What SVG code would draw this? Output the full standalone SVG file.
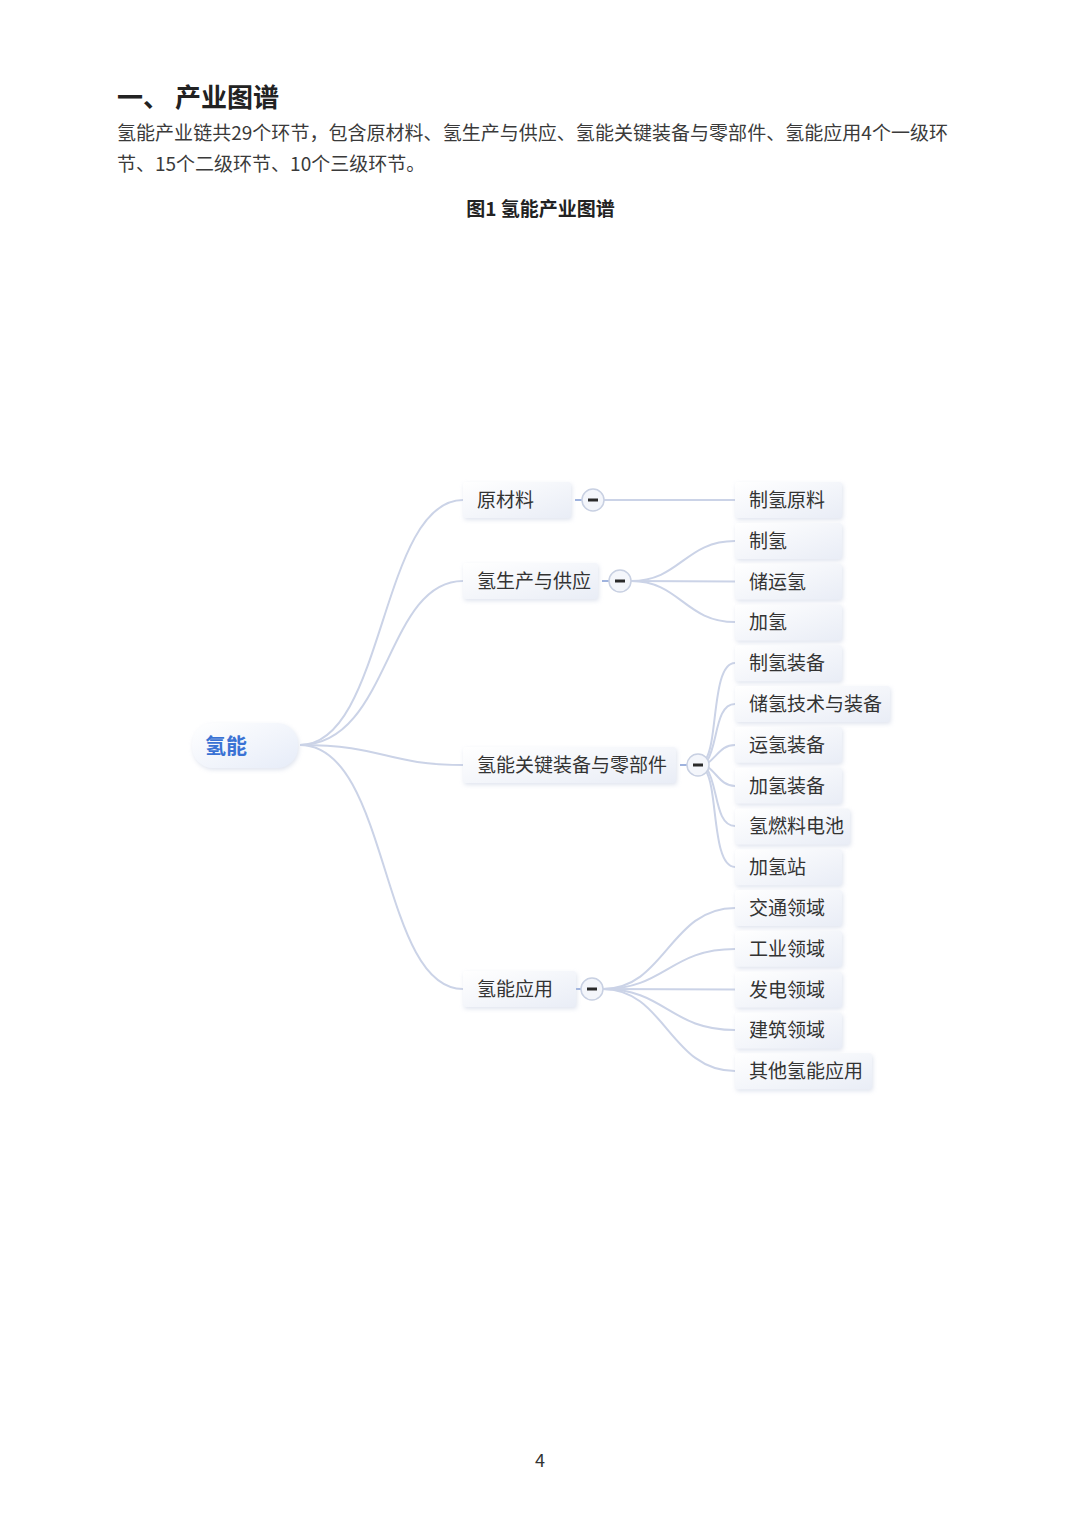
<svg xmlns="http://www.w3.org/2000/svg" width="1080" height="1526" viewBox="0 0 1080 1526">
<style>
text{font-family:"Noto Sans CJK SC","Noto Sans",sans-serif;fill:#333}
.h{font-size:26px;font-weight:bold;fill:#222}
.p{font-size:19px;fill:#3a3a3a}
.cap{font-size:19px;font-weight:bold;fill:#222}
.t{font-size:19px;fill:#333}
.root{font-size:21px;font-weight:bold;fill:#3a72d4}
.box{fill:url(#g);filter:url(#sh)}
.rbox{fill:url(#gr);filter:url(#sh)}
.c{fill:none;stroke:#cbd3e7;stroke-width:2}
.stub{stroke:#9fb3de;stroke-width:2}
.ci{fill:#f4f6fb;stroke:#c8d0e2;stroke-width:1.5}
.mi{stroke:#2a2a2a;stroke-width:3}
</style>
<defs>
<linearGradient id="g" x1="0" y1="0" x2="1" y2="1">
<stop offset="0" stop-color="#ffffff"/>
<stop offset="1" stop-color="#e9edf6"/>
</linearGradient>
<linearGradient id="gr" x1="0" y1="0" x2="1" y2="1">
<stop offset="0" stop-color="#ffffff"/>
<stop offset="1" stop-color="#e6ecf8"/>
</linearGradient>
<filter id="sh" x="-20%" y="-30%" width="140%" height="170%">
<feDropShadow dx="1" dy="2" stdDeviation="2" flood-color="#b9c3da" flood-opacity="0.45"/>
</filter>
</defs>
<rect width="1080" height="1526" fill="#ffffff"/>

<text class="h" x="117" y="107">一、 产业图谱</text>
<text class="p" x="117" y="140" textLength="831">氢能产业链共29个环节，包含原材料、氢生产与供应、氢能关键装备与零部件、氢能应用4个一级环</text>
<text class="p" x="117" y="171">节、15个二级环节、10个三级环节。</text>
<text class="cap" x="540.5" y="216" text-anchor="middle">图1 氢能产业图谱</text>

<g id="connectors">
<path class="c" d="M300,745 C385,745 380,500 463,500"/>
<path class="c" d="M300,745 C390,745 385,581 463,581"/>
<path class="c" d="M300,745 C385,745 385,765 463,765"/>
<path class="c" d="M300,745 C390,745 380,989 463,989"/>
<line class="stub" x1="575" y1="500" x2="582" y2="500"/>
<line class="stub" x1="602" y1="581" x2="609" y2="581"/>
<line class="stub" x1="680" y1="765" x2="687" y2="765"/>
<line class="stub" x1="574" y1="989" x2="581" y2="989"/>
<path class="c" d="M604,500 L735,500"/>
<path class="c" d="M631,581 C680,581 685,541 735,541"/>
<path class="c" d="M631,581 L735,581.6"/>
<path class="c" d="M631,581 C680,581 685,622 735,622"/>
<path class="c" d="M706,759 C718,740 712,663 735,663"/>
<path class="c" d="M707,761 C718,745 715,704 735,704"/>
<path class="c" d="M708,763 C718,755 722,745 735,745"/>
<path class="c" d="M708,767 C718,775 722,786 735,786"/>
<path class="c" d="M707,769 C718,785 715,826 735,826"/>
<path class="c" d="M706,771 C718,790 712,867 735,867"/>
<path class="c" d="M603,989 C665,989 670,908 735,908"/>
<path class="c" d="M603,989 C665,989 670,949 735,949"/>
<path class="c" d="M603,989 L735,989.6"/>
<path class="c" d="M603,989 C665,989 670,1030 735,1030"/>
<path class="c" d="M603,989 C665,989 670,1071 735,1071"/>
</g>

<g id="n-root"><rect class="rbox" x="192" y="723" width="106" height="45" rx="21"/><text class="root" x="205" y="753">氢能</text></g>

<g id="n-yuancailiao"><rect class="box" x="463" y="482" width="108" height="36" rx="3"/><text class="t" x="477" y="507">原材料</text><circle class="ci" cx="593" cy="500" r="11"/><line class="mi" x1="588" y1="500" x2="598" y2="500"/></g>
<g id="n-shengchan"><rect class="box" x="463" y="563" width="135" height="36" rx="3"/><text class="t" x="477" y="588">氢生产与供应</text><circle class="ci" cx="620" cy="581" r="11"/><line class="mi" x1="615" y1="581" x2="625" y2="581"/></g>
<g id="n-zhuangbei"><rect class="box" x="463" y="747" width="213" height="36" rx="3"/><text class="t" x="477" y="772">氢能关键装备与零部件</text><circle class="ci" cx="698" cy="765" r="11"/><line class="mi" x1="693" y1="765" x2="703" y2="765"/></g>
<g id="n-yingyong"><rect class="box" x="463" y="971" width="113" height="36" rx="3"/><text class="t" x="477" y="996">氢能应用</text><circle class="ci" cx="592" cy="989" r="11"/><line class="mi" x1="587" y1="989" x2="597" y2="989"/></g>

<g id="n-l2-1"><rect class="box" x="735" y="482" width="107" height="36" rx="3"/><text class="t" x="749" y="507">制氢原料</text></g>
<g id="n-l2-2"><rect class="box" x="735" y="523" width="107" height="36" rx="3"/><text class="t" x="749" y="548">制氢</text></g>
<g id="n-l2-3"><rect class="box" x="735" y="563.6" width="107" height="36" rx="3"/><text class="t" x="749" y="588.6">储运氢</text></g>
<g id="n-l2-4"><rect class="box" x="735" y="604.4" width="107" height="36" rx="3"/><text class="t" x="749" y="629.4">加氢</text></g>
<g id="n-l2-5"><rect class="box" x="735" y="645.2" width="107" height="36" rx="3"/><text class="t" x="749" y="670.2">制氢装备</text></g>
<g id="n-l2-6"><rect class="box" x="735" y="686" width="155" height="36" rx="3"/><text class="t" x="749" y="711">储氢技术与装备</text></g>
<g id="n-l2-7"><rect class="box" x="735" y="726.8" width="107" height="36" rx="3"/><text class="t" x="749" y="751.8">运氢装备</text></g>
<g id="n-l2-8"><rect class="box" x="735" y="767.6" width="107" height="36" rx="3"/><text class="t" x="749" y="792.6">加氢装备</text></g>
<g id="n-l2-9"><rect class="box" x="735" y="808.4" width="115" height="36" rx="3"/><text class="t" x="749" y="833.4">氢燃料电池</text></g>
<g id="n-l2-10"><rect class="box" x="735" y="849.2" width="107" height="36" rx="3"/><text class="t" x="749" y="874.2">加氢站</text></g>
<g id="n-l2-11"><rect class="box" x="735" y="890" width="107" height="36" rx="3"/><text class="t" x="749" y="915">交通领域</text></g>
<g id="n-l2-12"><rect class="box" x="735" y="930.8" width="107" height="36" rx="3"/><text class="t" x="749" y="955.8">工业领域</text></g>
<g id="n-l2-13"><rect class="box" x="735" y="971.6" width="107" height="36" rx="3"/><text class="t" x="749" y="996.6">发电领域</text></g>
<g id="n-l2-14"><rect class="box" x="735" y="1012.4" width="107" height="36" rx="3"/><text class="t" x="749" y="1037.4">建筑领域</text></g>
<g id="n-l2-15"><rect class="box" x="735" y="1053.2" width="137" height="36" rx="3"/><text class="t" x="749" y="1078.2">其他氢能应用</text></g>

<text x="540" y="1467" text-anchor="middle" style="font-size:18px;fill:#333">4</text>
</svg>
